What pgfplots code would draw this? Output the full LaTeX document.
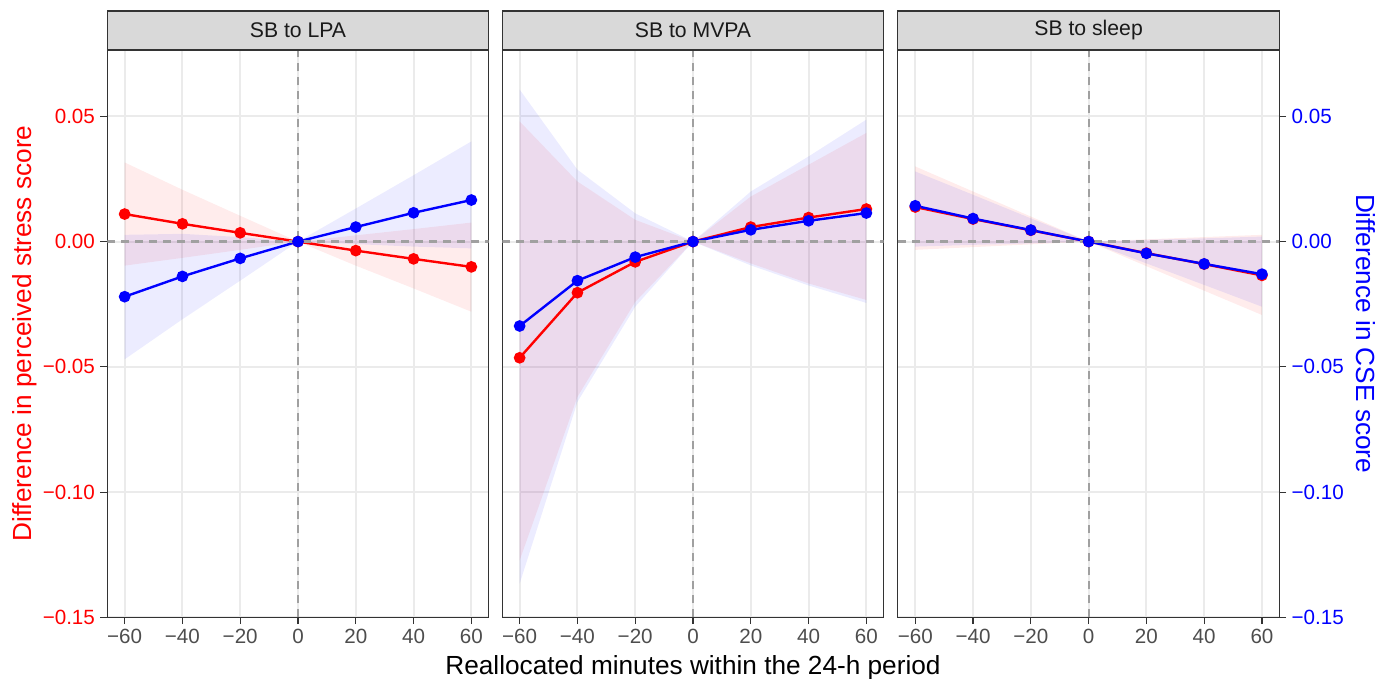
\documentclass[border=0pt]{standalone}
\usepackage{fontspec}
\setmainfont{Liberation Sans}
\usepackage{pgfplots}
\pgfplotsset{compat=1.18}
\definecolor{gridgray}{HTML}{EBEBEB}
\definecolor{framegray}{HTML}{333333}
\definecolor{refgray}{HTML}{A0A0A0}
\definecolor{stripgray}{HTML}{D9D9D9}
\definecolor{ticktext}{HTML}{4D4D4D}
\definecolor{striptext}{HTML}{1A1A1A}

\tikzset{refline/.style={refgray, line width=1.1pt, dash pattern=on 4pt off 3pt}}

\pgfplotsset{
  panel/.style={
    scale only axis, width=190.7pt, height=283.65pt, anchor=south west,
    xmin=-66, xmax=66, ymin=-0.15, ymax=0.0765,
    xtick={-60,-40,-20,0,20,40,60},
    xticklabels={−60,−40,−20,0,20,40,60},
    ytick={-0.15,-0.10,-0.05,0,0.05},
    yticklabels={},
    grid=major, major grid style={gridgray, line width=1pt},
    axis line style={framegray, line width=0.55pt},
    tick align=outside, major tick length=3.4pt,
    tick style={framegray, line width=0.55pt},
    xtick pos=left,
    x tick label style={font=\fontsize{10.3}{12}\selectfont, text=ticktext, inner sep=2.2pt},
    y tick label style={font=\fontsize{10.3}{12}\selectfont, inner sep=2.6pt},
    clip=true,
  },
  rband/.style={draw=none, fill=red, fill opacity=0.075, forget plot},
  bband/.style={draw=none, fill=blue, fill opacity=0.075, forget plot},
  rline/.style={red, line width=1.2pt, mark=*, mark size=2.3pt, mark options={solid}},
  bline/.style={blue, line width=1.2pt, mark=*, mark size=2.3pt, mark options={solid}},
}

\begin{document}
\begin{tikzpicture}
\path[use as bounding box] (0,0) rectangle (694.5pt,339.5pt);

% SB to LPA
\begin{axis}[panel, at={(53.65pt,30.85pt)}, ytick pos=left,
  yticklabels={−0.15,−0.10,−0.05,0.00,0.05},
  y tick label style={text=red}]
  \addplot[rband] coordinates {(-60,0.0316)(-40,0.0207)(-20,0.0103)(0,0)(20,0.0025)(40,0.0050)(60,0.0076)
    (60,-0.0280)(40,-0.0187)(20,-0.0096)(0,0)(-20,-0.0033)(-40,-0.0065)(-60,-0.0096)} -- cycle;
  \addplot[bband] coordinates {(-60,0.0027)(-40,0.0031)(-20,0.0018)(0,0)(20,0.0132)(40,0.0265)(60,0.0400)
    (60,-0.0027)(40,-0.0020)(20,-0.0010)(0,0)(-20,-0.0156)(-40,-0.0310)(-60,-0.0470)} -- cycle;
  \addplot[rline] coordinates {(-60,0.0110)(-40,0.0071)(-20,0.0035)(0,0)(20,-0.0036)(40,-0.0069)(60,-0.0101)};
  \addplot[bline] coordinates {(-60,-0.0220)(-40,-0.0139)(-20,-0.0067)(0,0)(20,0.0058)(40,0.0115)(60,0.0166)};
  \draw[refline] (axis cs:-66,0) -- (axis cs:66,0);
  \draw[refline] (axis cs:0,-0.15) -- (axis cs:0,0.0765);
\end{axis}

% SB to MVPA
\begin{axis}[panel, at={(251.15pt,30.85pt)}, y tick style={draw=none}]
  \addplot[rband] coordinates {(-60,0.0480)(-40,0.0240)(-20,0.0087)(0,0)(20,0.0180)(40,0.0307)(60,0.0434)
    (60,-0.0233)(40,-0.0167)(20,-0.0087)(0,0)(-20,-0.0241)(-40,-0.0620)(-60,-0.1273)} -- cycle;
  \addplot[bband] coordinates {(-60,0.0607)(-40,0.0287)(-20,0.0113)(0,0)(20,0.0200)(40,0.0340)(60,0.0487)
    (60,-0.0245)(40,-0.0175)(20,-0.0095)(0,0)(-20,-0.0260)(-40,-0.0640)(-60,-0.1366)} -- cycle;
  \addplot[rline] coordinates {(-60,-0.0464)(-40,-0.0204)(-20,-0.0081)(0,0)(20,0.0058)(40,0.0096)(60,0.0130)};
  \addplot[bline] coordinates {(-60,-0.0337)(-40,-0.0156)(-20,-0.0062)(0,0)(20,0.0047)(40,0.0083)(60,0.0114)};
  \draw[refline] (axis cs:-66,0) -- (axis cs:66,0);
  \draw[refline] (axis cs:0,-0.15) -- (axis cs:0,0.0765);
\end{axis}

% SB to sleep
\begin{axis}[panel, at={(448.95pt,30.85pt)}, ytick pos=right, yticklabel pos=right,
  yticklabels={−0.15,−0.10,−0.05,0.00,0.05},
  y tick label style={text=blue}]
  \addplot[rband] coordinates {(-60,0.0300)(-40,0.0200)(-20,0.0100)(0,0)(20,0.0009)(40,0.0018)(60,0.0027)
    (60,-0.0293)(40,-0.0196)(20,-0.0098)(0,0)(-20,-0.0011)(-40,-0.0022)(-60,-0.0033)} -- cycle;
  \addplot[bband] coordinates {(-60,0.0280)(-40,0.0187)(-20,0.0093)(0,0)(20,0.0007)(40,0.0013)(60,0.0020)
    (60,-0.0260)(40,-0.0173)(20,-0.0087)(0,0)(-20,-0.0007)(-40,-0.0013)(-60,-0.0020)} -- cycle;
  \addplot[rline] coordinates {(-60,0.0138)(-40,0.0090)(-20,0.0045)(0,0)(20,-0.0046)(40,-0.0090)(60,-0.0135)};
  \addplot[bline] coordinates {(-60,0.0143)(-40,0.0092)(-20,0.0046)(0,0)(20,-0.0047)(40,-0.0089)(60,-0.0130)};
  \draw[refline] (axis cs:-66,0) -- (axis cs:66,0);
  \draw[refline] (axis cs:0,-0.15) -- (axis cs:0,0.0765);
\end{axis}

% facet strips
\foreach \x/\lab in {53.65/SB to LPA, 251.15/SB to MVPA, 448.95/SB to sleep}{
  \draw[fill=stripgray, draw=framegray, line width=0.55pt] (\x pt,314.5pt) rectangle ++(190.7pt,19.5pt);
  \node[font=\fontsize{10.6}{12}\selectfont, text=striptext] at (\x pt+95.35pt,324.25pt) {\lab};
}

% axis titles
\node[anchor=base, font=\fontsize{13.1}{15}\selectfont] at (346.5pt,2.4pt)
  {Reallocated minutes within the 24-h period};
\node[anchor=base, rotate=90, text=red, font=\fontsize{13.1}{15}\selectfont] at (15.9pt,172.7pt)
  {Difference in perceived stress score};
\node[anchor=base, rotate=-90, text=blue, font=\fontsize{13.1}{15}\selectfont] at (678pt,172.7pt)
  {Difference in CSE score};
\end{tikzpicture}
\end{document}
